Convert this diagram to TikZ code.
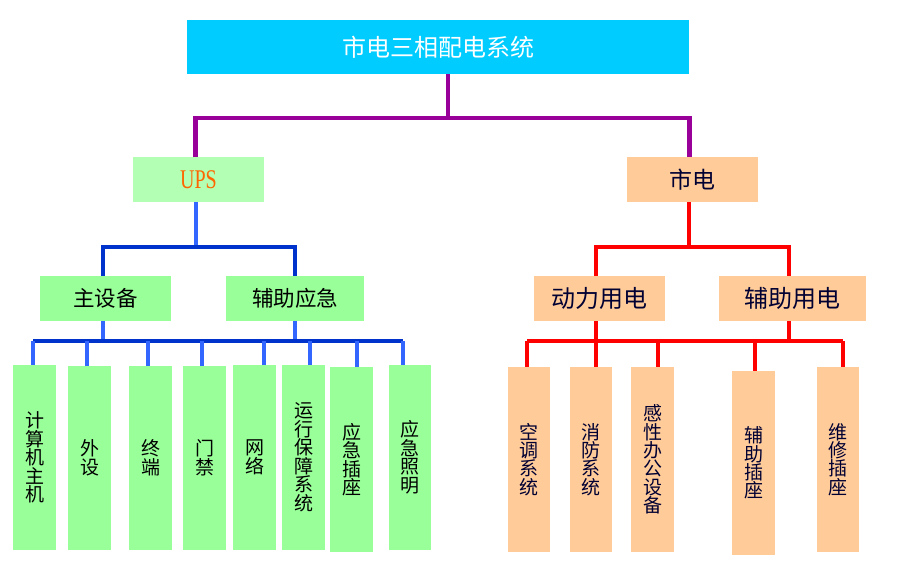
\documentclass[tikz,border=0pt]{standalone}
\usepackage{fontspec}
\usepackage{graphicx}
\setmainfont{Liberation Serif}
\newfontfamily\cjk{Noto Sans CJK SC}
\definecolor{topc}{HTML}{00CCFF}
\definecolor{upsc}{HTML}{B3FFB3}
\definecolor{grn}{HTML}{99FF99}
\definecolor{pch}{HTML}{FFCC99}
\definecolor{purp}{HTML}{990099}
\definecolor{lblue}{HTML}{3366FF}
\definecolor{dblue}{HTML}{0033CC}
\definecolor{redc}{HTML}{FF0000}
\definecolor{orng}{HTML}{FF6600}
\definecolor{navy}{HTML}{000033}
\tikzset{
  boxbase/.style={inner sep=0pt, outer sep=0pt, align=center},
  topbox/.style={boxbase, fill=topc, text=white, minimum width=502pt, minimum height=54pt, font=\cjk\fontsize{24}{26}\selectfont},
  midg/.style={boxbase, fill=grn, text=black, minimum height=45pt, font=\cjk\fontsize{21.5}{24}\selectfont},
  midp/.style={boxbase, fill=pch, text=navy, minimum height=45pt, font=\cjk\fontsize{24}{26}\selectfont},
  leafg/.style={boxbase, fill=grn, text=black, minimum width=43pt, minimum height=185pt, font=\cjk\fontsize{19}{18.5}\selectfont},
  leafp/.style={boxbase, fill=pch, text=navy, minimum width=42pt, minimum height=185pt, font=\cjk\fontsize{19}{18.3}\selectfont},
  pl/.style={draw=purp, line width=4.5pt},
  lb/.style={draw=lblue, line width=4pt},
  db/.style={draw=dblue, line width=4pt},
  rd/.style={draw=redc, line width=4pt},
}
\begin{document}
\begin{tikzpicture}[x=1pt, y=-1pt]
\useasboundingbox (0,0) rectangle (899,586);
\coordinate (b0) at (0,118);
\coordinate (b1) at (0,247);
\coordinate (b2) at (0,341);

\node[topbox] (top) at (438,47) {市电三相配电系统};
\node[midg, fill=upsc, minimum width=131pt, text=orng, font=\fontsize{20}{22}\selectfont] (ups) at (198.5,179.5) {\scalebox{1}[1.35]{UPS}};
\node[midp, minimum width=131pt, font=\cjk\fontsize{23}{25}\selectfont] (sd) at (692.5,179.5) {市电};
\node[midg, minimum width=131pt] (zsb) at (105.5,298.5) {主设备};
\node[midg, minimum width=138pt] (fzyj) at (295,298.5) {辅助应急};
\node[midp, minimum width=131pt] (dlyd) at (599.5,298.5) {动力用电};
\node[midp, minimum width=147pt] (fzyd) at (792.5,298.5) {辅助用电};

\node[leafg] (l1) at (34.5,457.5) {计\\算\\机\\主\\机};
\node[leafg, minimum height=184pt] (l2) at (89.5,458) {外\\设};
\node[leafg, minimum height=184pt] (l3) at (150.5,458) {终\\端};
\node[leafg, minimum height=184pt] (l4) at (204.5,458) {门\\禁};
\node[leafg] (l5) at (254.5,457.5) {网\\络};
\node[leafg] (l6) at (303.5,457.5) {运\\行\\保\\障\\系\\统};
\node[leafg] (l7) at (351.5,459.5) {应\\急\\插\\座};
\node[leafg, minimum width=42pt] (l8) at (410,457.5) {应\\急\\照\\明};

\node[leafp] (r1) at (529,459.5) {空\\调\\系\\统};
\node[leafp] (r2) at (591,459.5) {消\\防\\系\\统};
\node[leafp, minimum width=43pt] (r3) at (652.5,459.5) {感\\性\\办\\公\\设\\备};
\node[leafp, minimum width=43pt, minimum height=184pt] (r4) at (753.5,463) {辅\\助\\插\\座};
\node[leafp] (r5) at (838,459.5) {维\\修\\插\\座};

% purple
\draw[pl] ([xshift=10pt]top.south) -- ([xshift=10pt]top.south |- b0);
\draw[pl] ([xshift=-3pt]ups.north) |- ([xshift=-3pt]sd.north |- b0) -- ([xshift=-3pt]sd.north);

% blue
\draw[lb] ([xshift=-3pt]ups.south) -- ([xshift=-3pt]ups.south |- b1);
\draw[db] ([xshift=-3pt]zsb.north) |- (fzyj.north |- b1) -- (fzyj.north);
\draw[lb] ([xshift=-3pt]zsb.south) -- ([xshift=-3pt]zsb.south |- b2);
\draw[lb] (fzyj.south) -- (fzyj.south |- b2);
\draw[db] ([xshift=-1.5pt]l1.north |- b2) -- ([xshift=-7pt]l8.north |- b2);
\foreach \n/\s in {l1/-1.5, l2/-2.5, l3/-2.5, l4/-2.5, l5/9.5, l6/6.5, l7/5.5, l8/-7}
  \draw[lb] ([xshift=\s pt]\n.north |- b2) -- ([xshift=\s pt]\n.north);

% red
\draw[rd] ([xshift=-3.5pt]sd.south) -- ([xshift=-3.5pt]sd.south |- b1);
\draw[rd] ([xshift=-3.5pt]dlyd.north) |- ([xshift=-3.5pt]fzyd.north |- b1) -- ([xshift=-3.5pt]fzyd.north);
\draw[rd] ([xshift=-3.5pt]dlyd.south) -- ([xshift=-3.5pt]dlyd.south |- b2);
\draw[rd] ([xshift=-3.5pt]fzyd.south) -- ([xshift=-3.5pt]fzyd.south |- b2);
\draw[rd] ([xshift=-2pt]r1.north |- b2) -- ([xshift=5pt]r5.north |- b2);
\foreach \n/\s in {r1/-2, r2/5, r3/5.5, r4/1.5, r5/5}
  \draw[rd] ([xshift=\s pt]\n.north |- b2) -- ([xshift=\s pt]\n.north);
\end{tikzpicture}
\end{document}
